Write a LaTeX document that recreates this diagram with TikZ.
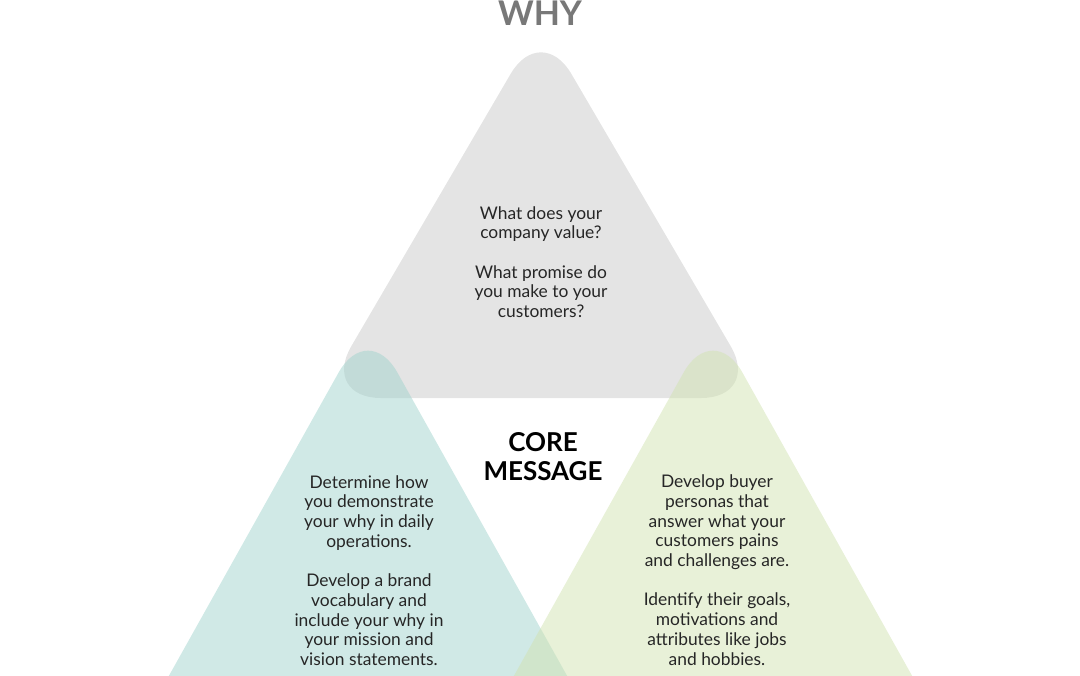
\documentclass[tikz,border=0pt]{standalone}
\usepackage{fontspec}
\setmainfont{Lato}

\definecolor{whygray}{RGB}{228,228,228}
\definecolor{howteal}{RGB}{161,211,205}
\definecolor{whatgreen}{RGB}{209,227,177}
\definecolor{titlegray}{RGB}{120,120,120}

\begin{document}
\begin{tikzpicture}[x = 0.5pt, y = -0.5pt,
	tri/.style = {rounded corners = 30pt},
	body/.style = {align = center, text = black!85, font = \fontsize{8.7}{9.85}\selectfont}]
	\clip (0,0) rectangle (1080,675);

	% the three triangles
	\fill[whygray, tri] (541,22) -- (761,398) -- (321,398) -- cycle;
	\fill[howteal, fill opacity = 0.5, tri] (368,320) -- (603,740) -- (133,740) -- cycle;
	\fill[whatgreen, fill opacity = 0.5, tri] (713,320) -- (948,740) -- (478,740) -- cycle;

	\node[text = titlegray, font = \fontsize{17}{18}\selectfont\bfseries] (why) at (540,13) {WHY};
	\node[align = center, font = \fontsize{13}{14.5}\selectfont\bfseries] (core) at (543,457) {CORE\\MESSAGE};

	\node[body] (value) at (541,262) {What does your\\company value?\\[9.85pt]What promise do\\you make to your\\customers?};
	\node[body] (how) at (369,570.5) {Determine how\\you demonstrate\\your why in daily\\operations.\\[9.85pt]Develop a brand\\vocabulary and\\include your why in\\your mission and\\vision statements.};
	\node[body] (buyer) at (717,570) {Develop buyer\\personas that\\answer what your\\customers pains\\and challenges are.\\[9.85pt]Identify their goals,\\motivations and\\attributes like jobs\\and hobbies.};
\end{tikzpicture}
\end{document}
